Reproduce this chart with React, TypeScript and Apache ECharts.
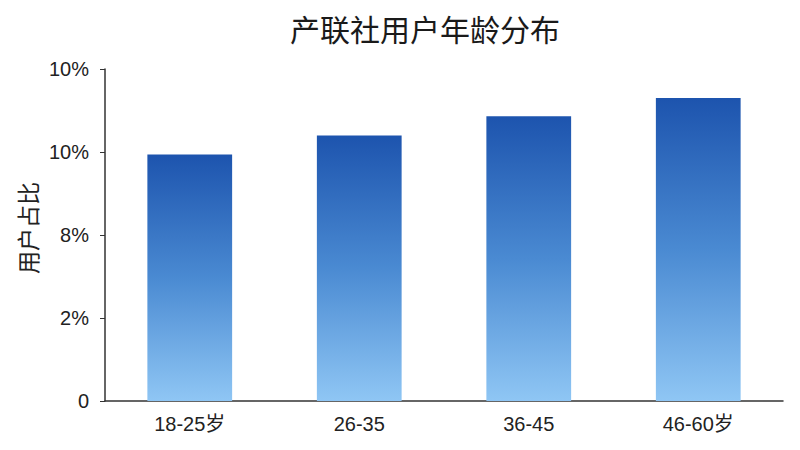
import React, { useEffect, useRef } from 'react';
import * as echarts from 'echarts';

const categories = ['18-25岁', '26-35', '36-45', '46-60岁'];
// bar heights in axis-step units (each step is one tick label below)
const values = [2.97, 3.2, 3.43, 3.65];
const tickLabels = ['0', '2%', '8%', '10%', '10%'];

const FONT = '"Liberation Sans", Arial, "Noto Sans CJK SC", sans-serif';
const CJK = '"Noto Sans CJK SC", sans-serif';

export default function App() {
  const chartRef = useRef<HTMLDivElement>(null);

  useEffect(() => {
    if (!chartRef.current) return;
    const chart = echarts.init(chartRef.current, undefined, { renderer: 'svg' });

    const option: echarts.EChartsOption = {
      animation: false,
      backgroundColor: '#ffffff',
      title: {
        text: '产联社用户年龄分布',
        left: 285,
        top: 8,
        textStyle: { fontFamily: CJK, fontSize: 30, fontWeight: 'normal', color: '#1a1a1a' },
      },
      grid: { left: 105, right: 17, top: 69, bottom: 49, containLabel: false },
      xAxis: {
        type: 'category',
        data: categories,
        axisLine: { lineStyle: { color: '#333333', width: 1.5 } },
        axisTick: { alignWithLabel: true, length: 6, lineStyle: { color: '#333333' } },
        axisLabel: { fontFamily: FONT, fontSize: 20, color: '#222222', margin: 13 },
      },
      yAxis: {
        type: 'value',
        min: 0,
        max: 4,
        interval: 1,
        name: '用户占比',
        nameLocation: 'middle',
        nameGap: 66,
        nameTextStyle: { fontFamily: CJK, fontSize: 23, color: '#222222', padding: [0, 0, 0, 14] },
        axisLine: { show: true, lineStyle: { color: '#333333', width: 1.5 } },
        axisTick: { show: true, length: 5, lineStyle: { color: '#333333' } },
        splitLine: { show: false },
        axisLabel: {
          fontFamily: FONT,
          fontSize: 20,
          color: '#222222',
          margin: 16,
          formatter: (v: number) => tickLabels[Math.round(v)] ?? '',
        },
      },
      series: [
        {
          type: 'bar',
          data: values,
          barWidth: '50%',
          itemStyle: {
            color: new echarts.graphic.LinearGradient(0, 0, 0, 1, [
              { offset: 0, color: '#1d54ae' },
              { offset: 0.5, color: '#4a8ad2' },
              { offset: 1, color: '#8fc6f4' },
            ]),
          },
        },
      ],
    };
    chart.setOption(option);

    const resizeHandler = () => chart.resize();
    window.addEventListener('resize', resizeHandler);
    return () => {
      window.removeEventListener('resize', resizeHandler);
      chart.dispose();
    };
  }, []);

  return <div ref={chartRef} style={{ width: 800, height: 450, margin: -8 }} />;
}
